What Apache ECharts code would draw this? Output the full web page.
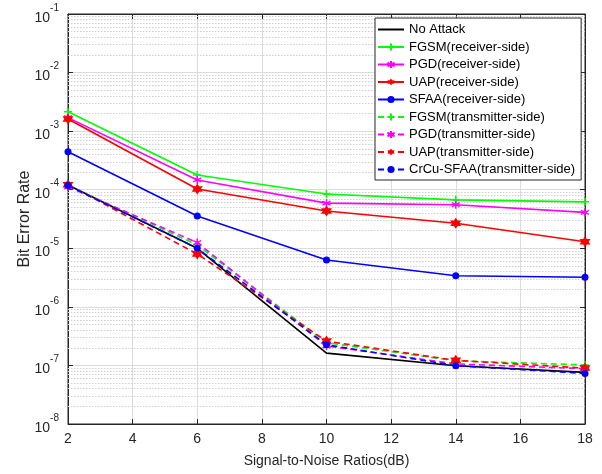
<!DOCTYPE html>
<html>
<head>
<meta charset="utf-8">
<script src="https://cdn.jsdelivr.net/npm/echarts@6/dist/echarts.min.js"></script>
<style>html,body{margin:0;padding:0;background:#fff;}#c{width:602px;height:474px;}</style>
</head>
<body>
<div id="c"></div>
<script>
const snr = [2, 6, 10, 14, 18];
const noAttack = [1.2e-4, 1.0e-5, 1.62e-7, 9.9e-8, 7.6e-8];
const fgsmRx = [2.15e-3, 1.78e-4, 8.45e-5, 6.7e-5, 6.2e-5];
const pgdRx = [1.70e-3, 1.47e-4, 5.9e-5, 5.55e-5, 4.1e-5];
const uapRx = [1.61e-3, 1.03e-4, 4.33e-5, 2.67e-5, 1.29e-5];
const sfaaRx = [4.46e-4, 3.56e-5, 6.3e-6, 3.4e-6, 3.2e-6];
const fgsmTx = [1.18e-4, 1.14e-5, 2.44e-7, 1.2e-7, 1.02e-7];
const pgdTx = [1.12e-4, 1.25e-5, 2.15e-7, 1.06e-7, 8.8e-8];
const uapTx = [1.22e-4, 8.0e-6, 2.6e-7, 1.22e-7, 9.0e-8];
const crcuTx = [1.18e-4, 1.0e-5, 2.25e-7, 9.9e-8, 7.3e-8];
const seriesNames = ['No Attack', 'FGSM(receiver-side)', 'PGD(receiver-side)', 'UAP(receiver-side)', 'SFAA(receiver-side)',
  'FGSM(transmitter-side)', 'PGD(transmitter-side)', 'UAP(transmitter-side)', 'CrCu-SFAA(transmitter-side)'];
const seriesValues = [noAttack, fgsmRx, pgdRx, uapRx, sfaaRx, fgsmTx, pgdTx, uapTx, crcuTx];
const decadeExps = [-8, -7, -6, -5, -4, -3, -2];
const minorMultipliers = [2, 3, 4, 5, 6, 7, 8, 9];
const xMin = 2, xMax = 18;

const FONT = 'Liberation Sans, Arial, Helvetica, sans-serif';
const PLUS = 'path://M0,-5L0,5M-5,0L5,0';
const ASTER = 'path://M0,-5L0,5M-4.33,-2.5L4.33,2.5M-4.33,2.5L4.33,-2.5';
const HEX = 'path://M0,-10L2.9,-5L8.66,-5L5.8,0L8.66,5L2.9,5L0,10L-2.9,5L-8.66,5L-5.8,0L-8.66,-5L-2.9,-5Z';

const styles = [
  {color: '#000000', symbol: 'none', size: 0, dash: 'solid', stroke: false},
  {color: '#00ff00', symbol: PLUS, size: 8, dash: 'solid', stroke: true},
  {color: '#ff00ff', symbol: ASTER, size: 8, dash: 'solid', stroke: true},
  {color: '#ff0000', symbol: HEX, size: 11, dash: 'solid', stroke: false},
  {color: '#0000ff', symbol: 'circle', size: 7, dash: 'solid', stroke: false},
  {color: '#00ff00', symbol: PLUS, size: 8, dash: [6, 4], stroke: true},
  {color: '#ff00ff', symbol: ASTER, size: 8, dash: [6, 4], stroke: true},
  {color: '#ff0000', symbol: HEX, size: 11, dash: [6, 4], stroke: false},
  {color: '#0000ff', symbol: 'circle', size: 7, dash: [6, 4], stroke: false}
];

const minorLines = [];
decadeExps.forEach(e => minorMultipliers.forEach(m => {
  const v = m * Math.pow(10, e);
  minorLines.push({coords: [[xMin, v], [xMax, v]]});
}));

const series = [{
  name: '__grid', type: 'lines', coordinateSystem: 'cartesian2d', silent: true, z: 1,
  polyline: false, animation: false, symbol: 'none',
  lineStyle: {color: '#cfcfcf', type: [1.5, 1.5], width: 1, opacity: 1},
  data: minorLines
}];
seriesNames.forEach((n, i) => {
  const s = styles[i];
  series.push({
    name: n, type: 'line', z: 3 + i,
    data: snr.map((x, j) => [x, seriesValues[i][j]]),
    symbol: s.symbol, symbolSize: s.size, showSymbol: s.symbol !== 'none',
    lineStyle: {color: s.color, width: 1.6, type: s.dash},
    itemStyle: s.stroke ? {color: s.color, borderColor: s.color, borderWidth: 1.5} : {color: s.color, borderWidth: 0},
    animation: false, emphasis: {disabled: true}
  });
});

const legendData = seriesNames.map((n, i) => i === 0 ? {name: n, itemStyle: {opacity: 0}} : {name: n});

const chart = echarts.init(document.getElementById('c'), null, {renderer: 'canvas'});
chart.setOption({
  backgroundColor: '#fff',
  animation: false,
  textStyle: {fontFamily: FONT},
  grid: {left: 68, right: 17, top: 14, bottom: 50, show: true, borderColor: '#262626', borderWidth: 1, backgroundColor: '#fff'},
  legend: {
    data: legendData, orient: 'vertical', left: 375, top: 18,
    backgroundColor: '#fff', borderColor: '#262626', borderWidth: 1,
    padding: [4, 6, 3, 2], itemWidth: 26, itemHeight: 9, itemGap: 2.5,
    textStyle: {fontFamily: FONT, fontSize: 13, color: '#000', lineHeight: 15}
  },
  xAxis: [{
    type: 'value', min: xMin, max: xMax, interval: 2,
    name: 'Signal-to-Noise Ratios(dB)', nameLocation: 'middle', nameGap: 30,
    nameTextStyle: {fontFamily: FONT, fontSize: 14, color: '#262626'},
    axisLine: {show: true, lineStyle: {color: '#262626'}},
    axisTick: {show: true, inside: true, length: 5, lineStyle: {color: '#262626'}},
    axisLabel: {fontFamily: FONT, fontSize: 14, color: '#262626', margin: 8},
    splitLine: {show: true, lineStyle: {color: '#dcdcdc', width: 1}}
  }, {
    type: 'value', min: xMin, max: xMax, interval: 2, position: 'top',
    axisLine: {show: true, lineStyle: {color: '#262626'}},
    axisTick: {show: true, inside: true, length: 5, lineStyle: {color: '#262626'}},
    axisLabel: {show: false}, splitLine: {show: false}
  }],
  yAxis: [{
    type: 'log', logBase: 10, min: 1e-8, max: 1e-1, interval: 1,
    name: 'Bit Error Rate', nameLocation: 'middle', nameGap: 35, nameMoveOverlap: false,
    nameTextStyle: {fontFamily: FONT, fontSize: 16, color: '#262626'},
    axisLine: {show: true, lineStyle: {color: '#262626'}},
    axisTick: {show: true, inside: true, length: 5, lineStyle: {color: '#262626'}},
    axisLabel: {
      margin: 9,
      formatter: v => '{b|10}{s|' + Math.round(Math.log10(v)) + '}',
      rich: {
        b: {fontFamily: FONT, fontSize: 14, color: '#262626', lineHeight: 22, verticalAlign: 'bottom'},
        s: {fontFamily: FONT, fontSize: 10, color: '#262626', lineHeight: 22, verticalAlign: 'top'}
      }
    },
    splitLine: {show: true, lineStyle: {color: '#dcdcdc', width: 1}}
  }, {
    type: 'log', logBase: 10, min: 1e-8, max: 1e-1, interval: 1, position: 'right',
    axisLine: {show: true, lineStyle: {color: '#262626'}},
    axisTick: {show: true, inside: true, length: 5, lineStyle: {color: '#262626'}},
    axisLabel: {show: false}, splitLine: {show: false}
  }],
  series: series
});
</script>
</body>
</html>
